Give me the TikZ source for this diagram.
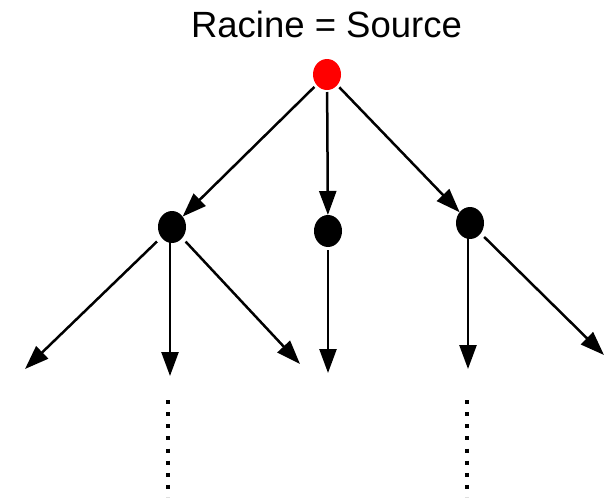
\documentclass[tikz,border=0pt]{standalone}
\usepackage{fontspec}
\setmainfont{Liberation Sans}
\usetikzlibrary{arrows.meta,shapes.geometric}
\begin{document}
\begin{tikzpicture}[x=1pt,y=-1pt,
  dotnode/.style={ellipse,fill=black,inner sep=0pt,minimum width=28pt,minimum height=32pt,outer sep=0pt},
  rootnode/.style={dotnode,fill=red,minimum height=31pt},
  arr/.style={line width=2.5pt,-{Triangle[length=24pt,width=17pt]}},
  dots/.style={line width=4pt,dash pattern=on 4pt off 8.125pt}]
\useasboundingbox (0,0) rectangle (604,501);
\node[anchor=base,font=\fontsize{36.5}{40}\selectfont] (title) at (326.5,37) {Racine = Source};
\node[rootnode] (r) at (327,74.5) {};
\node[dotnode] (a) at (172,227) {};
\node[dotnode] (b) at (328,231) {};
\node[dotnode] (c) at (470,223) {};
\coordinate (l1) at (25,369);
\coordinate (l2) at (170,376);
\coordinate (l3) at (300,364);
\coordinate (l4) at (328,373);
\coordinate (l5) at (468,369);
\coordinate (l6) at (604,355);
\draw[arr,shorten <=3pt] (r) -- (a);
\draw[arr,shorten <=2pt] (r) -- (b);
\draw[arr,shorten <=3pt] (r) -- (c);
\draw[arr,shorten <=6pt] (a) -- (l1);
\draw[arr,shorten <=3pt] ([xshift=-2pt]a.center) -- (l2);
\draw[arr,shorten <=5pt] (a) -- (l3);
\draw[arr,shorten <=3pt] (b) -- (l4);
\draw[arr,shorten <=3pt] ([xshift=-2pt]c.center) -- (l5);
\draw[arr,shorten <=5pt] (c) -- (l6);
\coordinate (d1a) at (168,400);
\coordinate (d1b) at (168,497);
\coordinate (d2a) at (467,400);
\coordinate (d2b) at (467,497);
\draw[dots] (d1a) -- (d1b);
\draw[dots] (d2a) -- (d2b);
\end{tikzpicture}
\end{document}
